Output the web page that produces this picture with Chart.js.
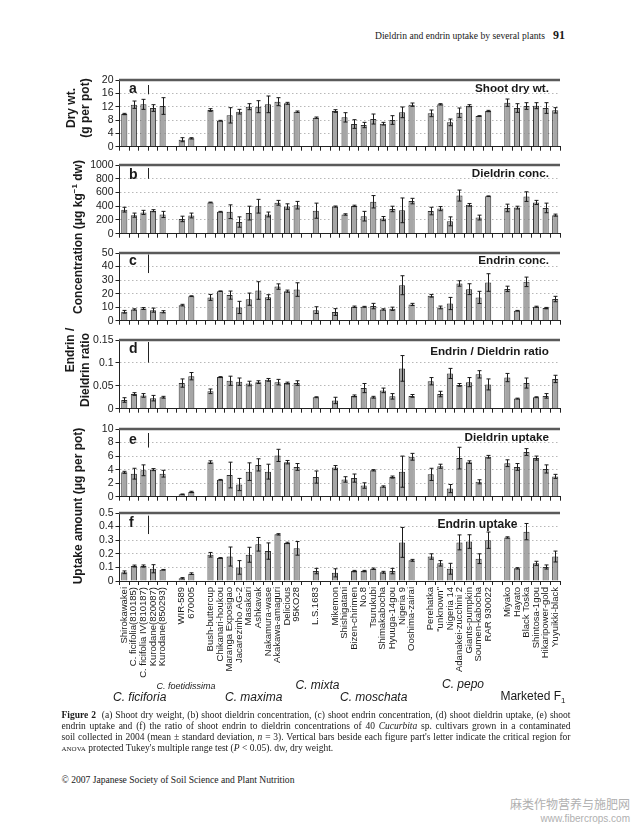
<!DOCTYPE html>
<html><head><meta charset="utf-8">
<script src="https://cdn.jsdelivr.net/npm/chart.js@4.4.0/dist/chart.umd.min.js"></script>
<style>
html,body{margin:0;padding:0;background:#fff;}
body{width:632px;height:828px;overflow:hidden;position:relative;font-family:"Liberation Sans",Arial,sans-serif;color:#1a1a1a;}
canvas{position:absolute;left:0;}
.t{position:absolute;white-space:nowrap;line-height:1;}
.b{font-weight:bold;}
.i{font-style:italic;}
.rot{position:absolute;white-space:nowrap;font-weight:bold;font-size:12px;line-height:14px;text-align:center;transform:translate(-50%,-50%) rotate(-90deg);}
.serif{font-family:"Liberation Serif","Times New Roman",serif;}
.cap div{white-space:nowrap;height:11px;line-height:11px;}
.j{text-align:justify;text-align-last:justify;}
</style></head><body>
<script>
// ---------- data ----------
const cultivars = ['Shirokawakei','C. ficifolia(810185)','C. ficifolia IV(810187)','Kurodane(820087)','Kurodane(850293)',
 'WIR-589','670005',
 'Bush-buttercup','Chikanari-houkou','Maranga Exposigao','Jacarezinho AG-2','Masakari','Ashkavak','Nakamura-wase','Akakawa-amaguri','Delicious','95KO28',
 'L.S.1683',
 'Mikemon','Shishigatani','Bizen-chirimen','No.8','Tsurukubi','Shimakabocha','Hyuuga-14gou','Nigeria 9','Ooshima-zairai',
 'Perehatka','"unknown"','Nigeria 14','Adanakei-zucchini 2','Giants-pumpkin','Soumen-kabocha','RAR 930022',
 'Miyako','Hayato','Black Toska','Shintosa-1gou','Hikaripower-gold','Yuyuikki-black'];
const groupSizes = [5,2,10,1,9,7,6];

const dryWt    = [9.8,12.6,12.7,11.6,12.2, 2.1,2.5, 11.0,7.8,9.4,10.5,12.0,12.0,12.7,13.5,13.0,10.5, 8.7, 10.7,8.8,6.8,6.5,8.3,6.9,8.0,10.3,12.6, 10.0,12.7,7.3,10.2,12.3,9.2,10.7, 13.2,11.6,12.2,12.3,11.6,10.9];
const dryWtSD  = [0.2,1.1,1.5,1.0,2.5, 0.6,0.2, 0.4,0.1,2.3,0.7,0.9,1.8,2.5,1.2,0.3,0.2, 0.2, 0.4,1.4,1.3,0.8,1.5,0.4,1.3,1.6,0.5, 1.0,0.2,1.0,1.4,0.3,0.1,0.2, 1.1,1.3,1.0,0.9,1.6,0.8];

const dieldrinConc   = [350,270,310,335,280, 215,265, 455,320,320,170,300,400,280,450,395,415, 335, 395,280,405,255,465,220,360,340,475, 330,365,180,555,420,235,545, 375,380,540,455,375,270];
const dieldrinConcSD = [35,30,30,15,45, 40,35, 5,5,100,75,100,100,35,35,40,55, 110, 8,10,10,70,90,30,40,180,40, 55,30,65,80,20,35,5, 55,20,70,30,70,15];

const endrinConc   = [6.6,8.3,9.0,7.8,6.6, 11.5,18.1, 17.2,21.8,18.9,9.8,15.9,22.3,17.4,25.2,21.8,23.0, 7.8, 6.4,0,10.3,10.3,10.8,8.3,8.8,26.2,12.0, 18.4,9.8,12.7,27.5,23.3,17.2,28.2, 23.5,7.4,28.7,10.3,9.3,16.0];
const endrinConcSD = [1,0.5,0.7,1.5,0.8, 0.6,0.3, 2.2,0.2,3,4.5,4.5,6.5,1.8,2,0.8,5, 2.5, 2.5,0,0.5,0.3,2,0.5,1.2,7,0.8, 1,1,4.5,2,4,4.5,6.5, 2,0.2,3.5,0.4,0.5,2];

const ratio   = [0.019,0.032,0.029,0.023,0.025, 0.056,0.071, 0.038,0.069,0.061,0.059,0.055,0.058,0.063,0.058,0.056,0.056, 0.025, 0.018,0,0.028,0.045,0.025,0.040,0.027,0.088,0.028, 0.060,0.032,0.077,0.052,0.058,0.075,0.053, 0.068,0.022,0.056,0.025,0.028,0.065];
const ratioSD = [0.005,0.003,0.004,0.006,0.002, 0.009,0.008, 0.005,0.001,0.01,0.008,0.005,0.003,0.003,0.006,0.002,0.005, 0.001, 0.007,0,0.002,0.01,0.002,0.005,0.006,0.028,0.003, 0.008,0.006,0.011,0.003,0.01,0.008,0.012, 0.009,0.001,0.011,0.001,0.005,0.008];

const dieldrinUptake   = [3.6,3.4,3.9,4.0,3.4, 0.35,0.7, 5.1,2.5,3.2,1.8,3.7,4.7,3.7,6.1,5.1,4.4, 2.9, 4.3,2.55,2.75,1.65,3.9,1.5,2.9,3.7,5.9, 3.3,4.5,1.2,5.7,5.1,2.2,5.9, 4.95,4.4,6.6,5.7,4.1,3.0];
const dieldrinUptakeSD = [0.15,0.8,0.8,0.15,0.5, 0.05,0.1, 0.2,0.05,1.9,0.9,1.3,0.9,1.1,0.9,0.25,0.5, 0.9, 0.3,0.4,0.6,0.4,0.1,0.1,0.15,2.3,0.5, 0.9,0.3,0.6,1.6,0.2,0.3,0.2, 0.5,0.5,0.5,0.3,0.6,0.3];

const endrinUptake   = [0.064,0.11,0.11,0.09,0.083, 0.02,0.054, 0.193,0.17,0.18,0.10,0.193,0.27,0.22,0.343,0.28,0.24, 0.073, 0.06,0,0.073,0.073,0.09,0.064,0.073,0.284,0.152, 0.18,0.13,0.09,0.284,0.29,0.164,0.30, 0.32,0.093,0.363,0.13,0.103,0.18];
const endrinUptakeSD = [0.01,0.007,0.008,0.03,0.002, 0.005,0.006, 0.017,0.002,0.07,0.05,0.055,0.05,0.06,0.005,0.005,0.05, 0.02, 0.03,0,0.005,0.005,0.005,0.007,0.02,0.11,0.007, 0.02,0.02,0.04,0.055,0.05,0.036,0.06, 0.005,0.005,0.06,0.015,0.015,0.04];

const ticksA = [0,4,8,12,16,20],          ticksALabels = ['0','4','8','12','16','20'];
const ticksB = [0,200,400,600,800,1000],  ticksBLabels = ['0','200','400','600','800','1000'];
const ticksC = [0,10,20,30,40,50],        ticksCLabels = ['0','10','20','30','40','50'];
const ticksD = [0,0.05,0.1,0.15],         ticksDLabels = ['0','0.05','0.1','0.15'];
const ticksE = [0,2,4,6,8,10],            ticksELabels = ['0','2','4','6','8','10'];
const ticksF = [0,0.1,0.2,0.3,0.4,0.5],   ticksFLabels = ['0','0.1','0.2','0.3','0.4','0.5'];
const criticalRegion = [2.8,157,13.7,0.045,2.15,0.135];

// ---------- helpers ----------
function expand(arr){ // insert an empty slot between groups
  const out=[]; let k=0;
  groupSizes.forEach((n,g)=>{ for(let i=0;i<n;i++){ const v=arr[k++]; out.push(v===0?null:v);} if(g<groupSizes.length-1) out.push(null); });
  return out;
}
function expandLabels(){
  const out=[]; let k=0;
  groupSizes.forEach((n,g)=>{ for(let i=0;i<n;i++) out.push(cultivars[k++]); if(g<groupSizes.length-1) out.push(''); });
  return out;
}
const slotLabels = expandLabels();

function txt(s, x, base, size, cls, align, extra){
  const d=document.createElement('div');
  d.className='t '+(cls||'');
  d.innerHTML=s;
  d.style.fontSize=size+'px';
  d.style.top=(base-0.846*size)+'px';
  if(align==='right'){ d.style.right=(632-x)+'px'; }
  else if(align==='center'){ d.style.left=x+'px'; d.style.transform='translateX(-50%)'; }
  else d.style.left=x+'px';
  if(extra) Object.assign(d.style, extra);
  document.body.appendChild(d);
  return d;
}

const LEFT=119.5, RIGHT=560, PADTOP=10;
function panel(p){
  const plotH=p.bottom-p.top;
  const xh=p.labels?110:8;
  const h=Math.round(PADTOP+plotH+xh);
  const cv=document.createElement('canvas');
  cv.width=632; cv.height=h;
  cv.style.width='632px'; cv.style.height=h+'px';
  cv.style.top=(p.bottom-(h-xh))+'px';
  document.body.appendChild(cv);
  const vals=expand(p.values), sds=expand(p.sd);
  const max=p.ticks[p.ticks.length-1];
  const deco={
    id:'deco'+p.key,
    afterDatasetsDraw(chart){
      const ctx=chart.ctx, y=chart.scales.y, meta=chart.getDatasetMeta(0);
      ctx.save();
      ctx.strokeStyle='#1a1a1a'; ctx.lineWidth=1;
      vals.forEach((v,i)=>{
        if(v==null) return;
        const s=sds[i]||0;
        const x=Math.round(meta.data[i].x)+0.5;
        const y1=y.getPixelForValue(v+s), y2=y.getPixelForValue(Math.max(0,v-s));
        ctx.beginPath();
        ctx.moveTo(x,y1); ctx.lineTo(x,y2);
        ctx.moveTo(x-2,y1); ctx.lineTo(x+2,y1);
        ctx.moveTo(x-2,y2); ctx.lineTo(x+2,y2);
        ctx.stroke();
      });
      ctx.restore();
    },
    afterDraw(chart){
      const ctx=chart.ctx, a=chart.chartArea, y=chart.scales.y, meta=chart.getDatasetMeta(0);
      ctx.save();
      ctx.strokeStyle='#5a5a5a'; ctx.lineWidth=2.5;
      ctx.beginPath(); ctx.moveTo(a.left-0.5,a.top); ctx.lineTo(a.right,a.top); ctx.stroke();
      // critical region bar
      const cx=Math.round((meta.data[2].x+meta.data[3].x)/2)+0.5;
      const yt=a.top+p.critOff;
      const len=y.getPixelForValue(0)-y.getPixelForValue(p.crit);
      ctx.strokeStyle='#222'; ctx.lineWidth=1;
      ctx.beginPath(); ctx.moveTo(cx,yt); ctx.lineTo(cx,yt+len); ctx.stroke();
      ctx.restore();
    }
  };
  new Chart(cv,{
    type:'bar',
    data:{labels:slotLabels,datasets:[{data:vals,backgroundColor:'#a6a6a6',borderColor:'#333',borderWidth:1,barPercentage:0.64,categoryPercentage:1}]},
    options:{
      responsive:false,animation:false,devicePixelRatio:1,
      layout:{padding:{top:PADTOP,right:632-RIGHT,left:0,bottom:0}},
      plugins:{legend:{display:false},tooltip:{enabled:false},title:{display:false}},
      scales:{
        x:{
          offset:true,
          grid:{display:true,drawOnChartArea:false,drawTicks:true,tickLength:4,tickColor:'#222',offset:true,color:'#222'},
          border:{display:true,color:'#222',width:1},
          ticks:{display:!!p.labels,autoSkip:false,minRotation:90,maxRotation:90,padding:2,color:'#1a1a1a',font:{family:'Liberation Sans',size:9.5}},
          afterFit(s){ s.height=xh; }
        },
        y:{
          min:0,max:max,
          afterBuildTicks(s){ s.ticks=p.ticks.map(v=>({value:v})); },
          ticks:{autoSkip:false,callback:(v,i)=>p.tickLabels[i],padding:2,color:'#1a1a1a',font:{family:'Liberation Sans',size:10.5}},
          grid:{color:(c)=>(c.tick&&(c.tick.value===0||c.tick.value===max))?'rgba(0,0,0,0)':'#b8b8b8',lineWidth:1,tickColor:'#222',tickLength:4,drawTicks:true},
          border:{display:true,color:'#222',width:1,dash:[1.5,2.5]},
          afterFit(s){ s.width=LEFT; }
        }
      }
    },
    plugins:[deco]
  });
  // letter and title
  txt(p.letter,129,p.letterBase,14,'b');
  if(p.titleCenter) txt(p.title,p.titleCenter,p.titleBase,12,'b','center');
  else txt(p.title,549,p.titleBase,11.7,'b','right');
}

panel({key:'a',top:80,bottom:147.3,values:dryWt,sd:dryWtSD,ticks:ticksA,tickLabels:ticksALabels,crit:criticalRegion[0],critOff:5,letter:'a',letterBase:92.7,title:'Shoot dry wt.',titleBase:91.7});
panel({key:'b',top:165.3,bottom:234,values:dieldrinConc,sd:dieldrinConcSD,ticks:ticksB,tickLabels:ticksBLabels,crit:criticalRegion[1],critOff:3,letter:'b',letterBase:179,title:'Dieldrin conc.',titleBase:177.3});
panel({key:'c',top:252.7,bottom:320.7,values:endrinConc,sd:endrinConcSD,ticks:ticksC,tickLabels:ticksCLabels,crit:criticalRegion[2],critOff:1.5,letter:'c',letterBase:265,title:'Endrin conc.',titleBase:264});
panel({key:'d',top:339.7,bottom:409,values:ratio,sd:ratioSD,ticks:ticksD,tickLabels:ticksDLabels,crit:criticalRegion[3],critOff:2,letter:'d',letterBase:353,title:'Endrin / Dieldrin ratio',titleBase:355});
panel({key:'e',top:429.3,bottom:497.3,values:dieldrinUptake,sd:dieldrinUptakeSD,ticks:ticksE,tickLabels:ticksELabels,crit:criticalRegion[4],critOff:4,letter:'e',letterBase:444,title:'Dieldrin uptake',titleBase:440.7});
panel({key:'f',top:513.3,bottom:581.3,values:endrinUptake,sd:endrinUptakeSD,ticks:ticksF,tickLabels:ticksFLabels,crit:criticalRegion[5],critOff:2.7,letter:'f',letterBase:527,title:'Endrin uptake',titleBase:527.7,titleCenter:477.5,labels:true});

// y-axis titles
function rot(html,cx,cy){const d=document.createElement('div');d.className='rot';d.innerHTML=html;d.style.left=cx+'px';d.style.top=cy+'px';document.body.appendChild(d);}
rot('Dry wt.<br>(g per pot)',78,108);
rot('Concentration (μg kg<sup style="font-size:8px;line-height:0">−1</sup> dw)',78,237);
rot('Endrin /',70,350);
rot('Dieldrin ratio',85,370);
rot('Uptake amount (μg per pot)',78,506);

// group labels
txt('C. ficiforia',139.7,701.5,12,'i','center');
txt('C. foetidissima',186,689.5,9,'i','center');
txt('C. maxima',253.7,701.5,12,'i','center');
txt('C. mixta',317.5,689,12,'i','center');
txt('C. moschata',373.7,701.5,12,'i','center');
txt('C. pepo',463,688.5,12,'i','center');
txt('Marketed F<sub style="font-size:8px;line-height:0">1</sub>',533,700.5,12,'','center');

// header
txt('Dieldrin and endrin uptake by several plants',545,39,9.6,'serif','right');
txt('91',565,39,12,'serif b','right');

// caption
const cap=document.createElement('div');
cap.className='cap serif';
Object.assign(cap.style,{position:'absolute',left:'61.5px',top:(718-8.5)+'px',width:'509px',fontSize:'9.5px',color:'#1a1a1a'});
cap.innerHTML='<div class="j"><b>Figure 2</b>&nbsp; (a) Shoot dry weight, (b) shoot dieldrin concentration, (c) shoot endrin concentration, (d) shoot dieldrin uptake, (e) shoot</div>'+
'<div class="j">endrin uptake and (f) the ratio of shoot endrin to dieldrin concentrations of 40 <i>Cucurbita</i> sp. cultivars grown in a contaminated</div>'+
'<div class="j">soil collected in 2004 (mean ± standard deviation, <i>n</i> = 3). Vertical bars beside each figure part\'s letter indicate the critical region for</div>'+
'<div><span style="font-variant:small-caps">anova</span> protected Tukey\'s multiple range test (<i>P</i> &lt; 0.05). dw, dry weight.</div>';
document.body.appendChild(cap);

txt('© 2007 Japanese Society of Soil Science and Plant Nutrition',61.5,783,9.6,'serif');

// watermark
txt('麻类作物营养与施肥网',630,808,12,'',"right",{fontFamily:'"Noto Sans CJK SC",sans-serif',color:'#b0b0b0'});
txt('www.fibercrops.com',630,822,10,'',"right",{color:'#b0b0b0'});
</script>
</body></html>
